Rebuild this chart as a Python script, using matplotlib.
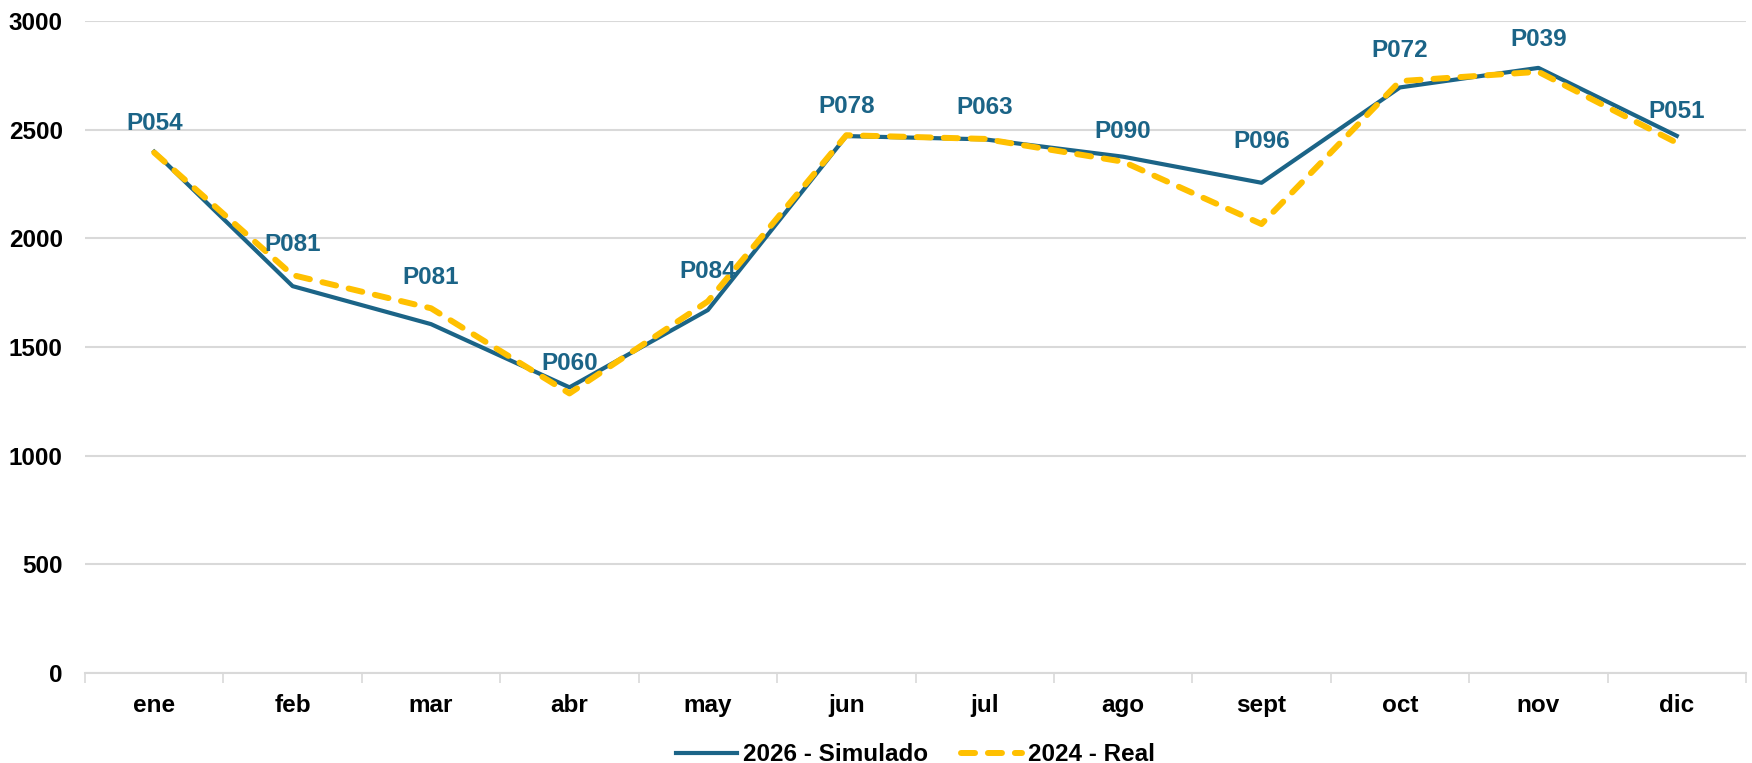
import matplotlib
matplotlib.use("Agg")
import matplotlib.pyplot as plt
import numpy as np

# --- datos ---
meses = ["ene", "feb", "mar", "abr", "may", "jun", "jul", "ago", "sept", "oct", "nov", "dic"]
simulado_2026 = [2399, 1780, 1605, 1314, 1670, 2471, 2456, 2376, 2256, 2695, 2785, 2472]
real_2024 = [2395, 1831, 1678, 1286, 1710, 2475, 2458, 2353, 2066, 2724, 2767, 2440]
etiquetas = ["P054", "P081", "P081", "P060", "P084", "P078", "P063", "P090", "P096", "P072", "P039", "P051"]

# desplazamiento vertical de cada etiqueta (pixeles sobre la linea azul)
desplaz = [28, 42, 47, 24, 39, 30, 32, 25, 41, 37, 28, 24]

AZUL = "#1B6487"
AMARILLO = "#FFC000"
GRIS = "#D9D9D9"
FUENTE = ["Liberation Sans", "DejaVu Sans"]
TAM = 17.5

plt.rcParams["font.family"] = FUENTE
plt.rcParams["font.weight"] = "bold"

fig = plt.figure(figsize=(17.52, 7.63), dpi=100)
ax = fig.add_axes([85 / 1752, 1 - 672.7 / 763, (1746 - 85) / 1752, (672.7 - 21.2) / 763])

x = np.arange(len(meses))
ax.plot(x, simulado_2026, color=AZUL, lw=3.0, label="2026 - Simulado", zorder=3)
ax.plot(x, real_2024, color=AMARILLO, lw=4.3, dashes=(2.35, 2.16), dash_capstyle="round",
        label="2024 - Real", zorder=4)

for xi, yi, txt, d in zip(x, simulado_2026, etiquetas, desplaz):
    ax.annotate(txt, (xi, yi), xytext=(0, d * 0.72), textcoords="offset points",
                ha="center", va="center", color=AZUL, fontsize=TAM, fontweight="bold", zorder=5)

ax.set_xlim(-0.5, len(meses) - 0.5)
ax.set_ylim(0, 3000)
ax.set_yticks(np.arange(0, 3001, 500))
ax.grid(axis="y", color=GRIS, lw=1.5, zorder=0)
ax.set_axisbelow(True)

ax.set_xticks(x)
ax.set_xticklabels(meses)
ax.set_xticks(np.arange(-0.5, len(meses), 1), minor=True)
ax.tick_params(axis="x", which="major", length=0, pad=15.5, labelsize=TAM)
ax.tick_params(axis="x", which="minor", length=7, width=1.2, color=GRIS)
ax.tick_params(axis="y", length=0, pad=16, labelsize=TAM)

for s in ["top", "right", "left"]:
    ax.spines[s].set_visible(False)
ax.spines["bottom"].set_color(GRIS)
ax.spines["bottom"].set_linewidth(1.5)

ax.legend(loc="center", bbox_to_anchor=(0.5, -0.126), ncol=2, frameon=False,
          fontsize=TAM, handlelength=2.5, handletextpad=0.25, columnspacing=1.35)

fig.savefig("out.png", dpi=100)
